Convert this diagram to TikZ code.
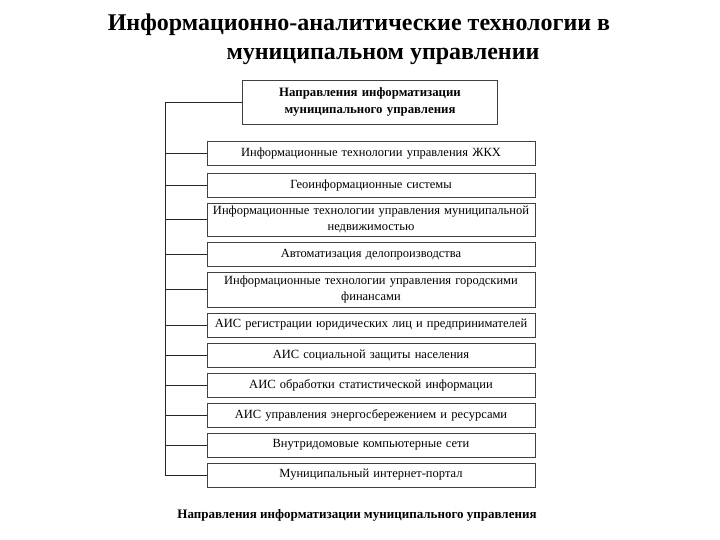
\documentclass[tikz,border=0pt]{standalone}
\usepackage{fontspec}
\setmainfont{Liberation Serif}
\begin{document}
\begin{tikzpicture}[x=1pt, y=-1pt,
  box/.style={draw=black!75, line width=0.9pt, rectangle, align=center,
              inner sep=2pt, text width=324pt, minimum height=24pt,
              font=\fontsize{12.5}{16}\selectfont},
  head/.style={box, text width=251pt, minimum height=44pt,
               font=\bfseries\fontsize{12.8}{17}\selectfont},
  ttl/.style={font=\bfseries\fontsize{24}{28}\selectfont, inner sep=0pt},
  ln/.style={black!85, line width=0.9pt},
]
\useasboundingbox (0,0) rectangle (720,540);

\node[ttl] (ttl1) at (359,25) {Информационно-аналитические технологии в};
\node[ttl] (ttl2) at (383,56) {муниципальном управлении};

\node[head] (dir) at (370,102) {Направления информатизации\\муниципального управления};

\node[box] (zhkh)   at (371,153.5) {Информационные технологии управления ЖКХ};
\node[box] (geo)    at (371,185)   {Геоинформационные системы};
\node[box, minimum height=33pt] (nedv) at (371,219.5)
  {Информационные технологии управления муниципальной\\недвижимостью};
\node[box] (avt)    at (371,254.5) {Автоматизация делопроизводства};
\node[box, minimum height=35pt] (fin) at (371,289.5)
  {Информационные технологии управления городскими\\финансами};
\node[box] (reg)    at (371,325)   {АИС регистрации юридических лиц и предпринимателей};
\node[box] (soc)    at (371,355.5) {АИС социальной защиты населения};
\node[box] (stat)   at (371,385)   {АИС обработки статистической информации};
\node[box] (energ)  at (371,415)   {АИС управления энергосбережением и ресурсами};
\node[box] (seti)   at (371,445)   {Внутридомовые компьютерные сети};
\node[box] (portal) at (371,475)   {Муниципальный интернет-портал};

% spine on the left
\coordinate (spine) at (165,102);
\draw[ln] (dir.west) -- (spine) |- (portal.west);
\foreach \b in {zhkh,geo,nedv,avt,fin,reg,soc,stat,energ,seti}
  \draw[ln] (\b.west) -- (\b.west -| spine);

\node[font=\bfseries\fontsize{13}{15}\selectfont] (cap) at (357,515)
  {Направления информатизации муниципального управления};
\end{tikzpicture}
\end{document}
